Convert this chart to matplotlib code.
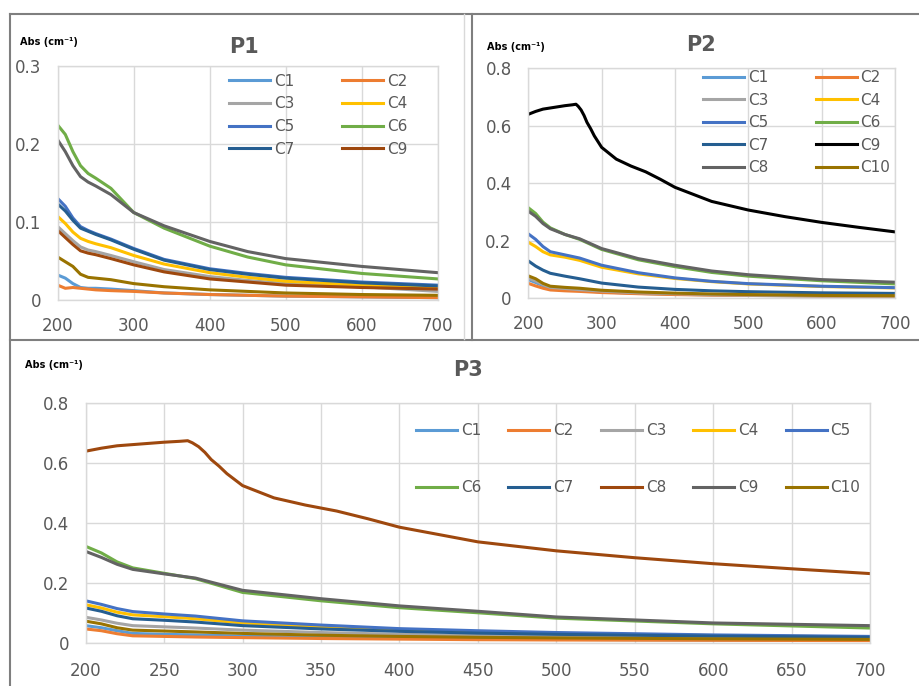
import matplotlib
matplotlib.use("Agg")
import matplotlib.pyplot as plt
from matplotlib.lines import Line2D

W, H = 920, 686

# Excel-like colours
col = {
    "C1": "#5B9BD5", "C2": "#ED7D31", "C3": "#A5A5A5", "C4": "#FFC000",
    "C5": "#4472C4", "C6": "#70AD47", "C7": "#255E91", "brown": "#9E480E",
    "dgray": "#636363", "olive": "#997300", "black": "#000000",
}

# ---------------- P1 data ----------------
x1 = [200, 210, 220, 230, 240, 250, 270, 300, 340, 400, 450, 500, 600, 700]
p1_dgray = [0.205, 0.190, 0.172, 0.158, 0.151, 0.146, 0.135, 0.112, 0.095, 0.075, 0.062, 0.053, 0.043, 0.035]
p1_c6 = [0.224, 0.212, 0.190, 0.172, 0.162, 0.156, 0.143, 0.112, 0.092, 0.069, 0.055, 0.045, 0.034, 0.027]
p1_c5 = [0.130, 0.120, 0.105, 0.094, 0.089, 0.085, 0.078, 0.066, 0.052, 0.040, 0.034, 0.029, 0.023, 0.019]
p1_c7 = [0.123, 0.114, 0.102, 0.092, 0.088, 0.084, 0.077, 0.065, 0.051, 0.039, 0.033, 0.028, 0.022, 0.018]
p1_c4 = [0.107, 0.098, 0.087, 0.079, 0.075, 0.072, 0.067, 0.057, 0.046, 0.035, 0.029, 0.024, 0.019, 0.016]
p1_c3 = [0.094, 0.085, 0.076, 0.068, 0.064, 0.062, 0.057, 0.049, 0.039, 0.030, 0.025, 0.021, 0.017, 0.011]
p1_c9 = [0.089, 0.080, 0.071, 0.063, 0.060, 0.058, 0.053, 0.045, 0.036, 0.027, 0.023, 0.019, 0.016, 0.014]
p1_olive = [0.055, 0.049, 0.043, 0.033, 0.029, 0.028, 0.026, 0.021, 0.017, 0.013, 0.011, 0.009, 0.007, 0.006]
p1_c1 = [0.032, 0.028, 0.021, 0.016, 0.015, 0.015, 0.014, 0.012, 0.009, 0.007, 0.006, 0.005, 0.004, 0.003]
p1_c2 = [0.019, 0.015, 0.016, 0.015, 0.014, 0.013, 0.012, 0.011, 0.009, 0.007, 0.006, 0.005, 0.004, 0.003]

# ---------------- peak curve (P2 C9 / P3 C8) ----------------
x_peak = [200, 205, 210, 220, 230, 240, 250, 260, 265, 268, 272, 276, 280, 285, 290, 300,
          320, 340, 360, 380, 400, 450, 500, 550, 600, 650, 700]
peak = [0.640, 0.645, 0.650, 0.658, 0.662, 0.666, 0.670, 0.673, 0.675, 0.668, 0.655, 0.636, 0.612,
        0.590, 0.565, 0.525, 0.484, 0.460, 0.440, 0.414, 0.386, 0.337, 0.307, 0.284, 0.264, 0.247, 0.231]

# ---------------- P2 data ----------------
x2 = [200, 210, 220, 230, 250, 270, 300, 350, 400, 450, 500, 600, 700]
p2_c6 = [0.315, 0.295, 0.265, 0.245, 0.222, 0.205, 0.170, 0.134, 0.110, 0.090, 0.077, 0.061, 0.050]
p2_c8 = [0.303, 0.285, 0.260, 0.242, 0.222, 0.207, 0.173, 0.138, 0.115, 0.095, 0.082, 0.065, 0.056]
p2_c5 = [0.224, 0.205, 0.180, 0.162, 0.151, 0.140, 0.115, 0.089, 0.071, 0.059, 0.051, 0.042, 0.037]
p2_c4 = [0.195, 0.180, 0.162, 0.151, 0.143, 0.132, 0.108, 0.085, 0.069, 0.058, 0.050, 0.041, 0.036]
p2_c7 = [0.130, 0.112, 0.098, 0.087, 0.077, 0.068, 0.053, 0.039, 0.031, 0.026, 0.023, 0.019, 0.017]
p2_c10 = [0.078, 0.068, 0.052, 0.042, 0.038, 0.035, 0.028, 0.022, 0.018, 0.015, 0.013, 0.010, 0.009]
p2_c3 = [0.070, 0.060, 0.048, 0.038, 0.034, 0.030, 0.025, 0.019, 0.016, 0.013, 0.011, 0.009, 0.008]
p2_c1 = [0.065, 0.055, 0.044, 0.034, 0.030, 0.027, 0.022, 0.017, 0.014, 0.012, 0.010, 0.008, 0.007]
p2_c2 = [0.052, 0.043, 0.035, 0.029, 0.026, 0.024, 0.020, 0.016, 0.013, 0.011, 0.010, 0.008, 0.007]

# ---------------- P3 data ----------------
x3 = x2
p3_c6 = [0.322, 0.300, 0.270, 0.250, 0.232, 0.214, 0.168, 0.140, 0.117, 0.100, 0.082, 0.063, 0.049]
p3_c9 = [0.305, 0.285, 0.262, 0.245, 0.230, 0.216, 0.175, 0.147, 0.123, 0.105, 0.086, 0.066, 0.057]
p3_c5 = [0.140, 0.128, 0.114, 0.104, 0.096, 0.089, 0.073, 0.059, 0.047, 0.040, 0.034, 0.026, 0.021]
p3_c4 = [0.127, 0.116, 0.102, 0.093, 0.087, 0.080, 0.066, 0.053, 0.043, 0.036, 0.031, 0.024, 0.019]
p3_c7 = [0.116, 0.105, 0.090, 0.080, 0.075, 0.069, 0.057, 0.046, 0.038, 0.032, 0.028, 0.022, 0.018]
p3_c3 = [0.085, 0.076, 0.065, 0.057, 0.053, 0.049, 0.042, 0.034, 0.028, 0.024, 0.021, 0.017, 0.014]
p3_c10 = [0.072, 0.063, 0.050, 0.042, 0.039, 0.036, 0.031, 0.025, 0.021, 0.018, 0.016, 0.013, 0.011]
p3_c1 = [0.057, 0.050, 0.040, 0.031, 0.028, 0.026, 0.022, 0.018, 0.015, 0.013, 0.011, 0.009, 0.008]
p3_c2 = [0.046, 0.040, 0.030, 0.023, 0.021, 0.019, 0.017, 0.014, 0.012, 0.010, 0.009, 0.008, 0.007]

TXT = "#595959"
GRID = "#d9d9d9"
LW = 2.2

plt.rcParams["font.family"] = "DejaVu Sans"


def box(l, t, r, b):
    # pixel box -> figure fraction rect
    return [l / W, 1 - b / H, (r - l) / W, (b - t) / H]


def style(ax, xticks, yticks, xpad, ypad):
    ax.set_xlim(xticks[0], xticks[-1])
    ax.set_ylim(yticks[0], yticks[-1])
    ax.set_xticks(xticks)
    ax.set_yticks(yticks)
    ax.set_yticklabels(["%g" % v for v in yticks])
    ax.grid(True, color=GRID, lw=1)
    ax.set_axisbelow(True)
    for s in ax.spines.values():
        s.set_color(GRID)
        s.set_linewidth(1)
    ax.tick_params(length=0, labelsize=12, colors=TXT)
    ax.tick_params(axis="x", pad=xpad)
    ax.tick_params(axis="y", pad=ypad)


def add_legend(ax, order, ncol, anchor, colsp, labsp):
    h, l = ax.get_legend_handles_labels()
    ax.legend([h[i] for i in order], [l[i] for i in order], ncol=ncol, frameon=False,
              loc="upper left", bbox_to_anchor=anchor, borderpad=0, borderaxespad=0,
              handlelength=2.7, handletextpad=0.25, columnspacing=colsp,
              labelspacing=labsp, fontsize=11, labelcolor=TXT)


fig = plt.figure(figsize=(W / 100, H / 100), dpi=100)

# ---------- P1 ----------
ax1 = fig.add_axes(box(57.7, 65.7, 437.7, 300))
ax1.plot(x1, p1_c1, color=col["C1"], lw=LW, label="C1")
ax1.plot(x1, p1_c2, color=col["C2"], lw=LW, label="C2")
ax1.plot(x1, p1_c3, color=col["C3"], lw=LW, label="C3")
ax1.plot(x1, p1_c4, color=col["C4"], lw=LW, label="C4")
ax1.plot(x1, p1_c5, color=col["C5"], lw=LW, label="C5")
ax1.plot(x1, p1_c6, color=col["C6"], lw=LW, label="C6")
ax1.plot(x1, p1_c7, color=col["C7"], lw=LW, label="C7")
ax1.plot(x1, p1_c9, color=col["brown"], lw=LW, label="C9")
ax1.plot(x1, p1_dgray, color=col["dgray"], lw=LW)
ax1.plot(x1, p1_olive, color=col["olive"], lw=LW)
style(ax1, [200, 300, 400, 500, 600, 700], [0, 0.1, 0.2, 0.3], 12, 12)
add_legend(ax1, [0, 2, 4, 6, 1, 3, 5, 7], 2, (0.451, 0.966), 3.1, 0.5)

# ---------- P2 ----------
ax2 = fig.add_axes(box(528.3, 68.3, 895, 298.3))
ax2.plot(x2, p2_c1, color=col["C1"], lw=LW, label="C1")
ax2.plot(x2, p2_c2, color=col["C2"], lw=LW, label="C2")
ax2.plot(x2, p2_c3, color=col["C3"], lw=LW, label="C3")
ax2.plot(x2, p2_c4, color=col["C4"], lw=LW, label="C4")
ax2.plot(x2, p2_c5, color=col["C5"], lw=LW, label="C5")
ax2.plot(x2, p2_c6, color=col["C6"], lw=LW, label="C6")
ax2.plot(x2, p2_c7, color=col["C7"], lw=LW, label="C7")
ax2.plot(x_peak, peak, color=col["black"], lw=LW, label="C9")
ax2.plot(x2, p2_c8, color=col["dgray"], lw=LW, label="C8")
ax2.plot(x2, p2_c10, color=col["olive"], lw=LW, label="C10")
style(ax2, [200, 300, 400, 500, 600, 700], [0, 0.2, 0.4, 0.6, 0.8], 12, 12)
add_legend(ax2, [0, 2, 4, 6, 8, 1, 3, 5, 7, 9], 2, (0.4756, 0.993), 3.1, 0.5)

# ---------- P3 ----------
ax3 = fig.add_axes(box(85.7, 403.3, 870, 642.7))
ax3.plot(x3, p3_c1, color=col["C1"], lw=LW, label="C1")
ax3.plot(x3, p3_c2, color=col["C2"], lw=LW, label="C2")
ax3.plot(x3, p3_c3, color=col["C3"], lw=LW, label="C3")
ax3.plot(x3, p3_c4, color=col["C4"], lw=LW, label="C4")
ax3.plot(x3, p3_c5, color=col["C5"], lw=LW, label="C5")
ax3.plot(x3, p3_c6, color=col["C6"], lw=LW, label="C6")
ax3.plot(x3, p3_c7, color=col["C7"], lw=LW, label="C7")
ax3.plot(x_peak, peak, color=col["brown"], lw=LW, label="C8")
ax3.plot(x3, p3_c9, color=col["dgray"], lw=LW, label="C9")
ax3.plot(x3, p3_c10, color=col["olive"], lw=LW, label="C10")
style(ax3, list(range(200, 701, 50)), [0, 0.2, 0.4, 0.6, 0.8], 14, 12)
add_legend(ax3, [0, 5, 1, 6, 2, 7, 3, 8, 4, 9], 5, (0.4208, 0.916), 1.77, 2.75)

# titles and y labels
fig.text(244 / W, 1 - 46.7 / H, "P1", ha="center", va="center", fontsize=15,
         fontweight="bold", color=TXT)
fig.text(701 / W, 1 - 45 / H, "P2", ha="center", va="center", fontsize=15,
         fontweight="bold", color=TXT)
fig.text(468 / W, 1 - 370 / H, "P3", ha="center", va="center", fontsize=15,
         fontweight="bold", color=TXT)
for (px, py) in [(20, 41.7), (487, 47.3), (25, 365)]:
    fig.text(px / W, 1 - py / H, "Abs (cm⁻¹)", ha="left", va="center",
             fontsize=7, fontweight="bold", color="black")

# panel borders
bc = "#7f7f7f"
for xs, ys in [([10, 920], [14, 14]), ([10, 10], [14, 686]),
               ([472, 472], [14, 340]), ([10, 920], [340, 340])]:
    fig.add_artist(Line2D([v / W for v in xs], [1 - v / H for v in ys],
                          color=bc, lw=1.5))
fig.add_artist(Line2D([464 / W, 464 / W], [1 - 14 / H, 1 - 339 / H],
                      color="#d9d9d9", lw=1))

fig.savefig("out.png", dpi=100)
